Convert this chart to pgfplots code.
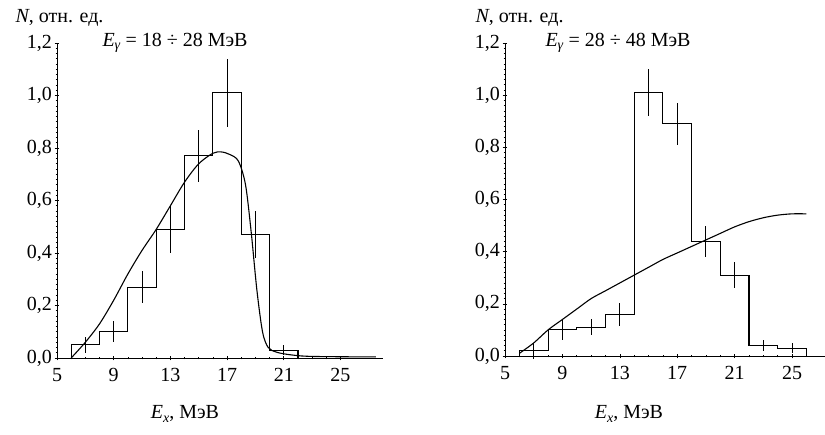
\documentclass[border=0pt]{standalone}
\usepackage{pgfplots}
\pgfplotsset{compat=1.18}
\usepackage{fontspec}
\setmainfont{Liberation Serif}
\newcommand\myf{\fontsize{20bp}{22bp}\selectfont}
\newcommand\sub[1]{\raisebox{-0.35ex}{\fontsize{14bp}{15bp}\selectfont\textit{#1}}}
\pgfplotsset{
 myax/.style={scale only axis, axis lines=left, axis line style={-, line width=1pt},
  xmin=5, ymin=0, ymax=1.2, xtick={5,9,13,17,21,25}, minor x tick num=3,
  ytick={0,0.2,0.4,0.6,0.8,1.0,1.2}, minor y tick num=9,
  tick align=center, major tick length=5pt, minor tick length=3pt,
  tick style={black, line width=0.6pt},
  ticklabel style={font=\myf},
  /pgf/number format/assume math mode=true,
  yticklabel style={xshift=1pt, /pgf/number format/.cd, fixed, fixed zerofill, precision=1, use comma},
  xticklabel style={yshift=-4pt},
  clip=false},
 hist/.style={black, const plot mark left, line width=1.1pt, mark=none},
 err/.style={black, draw=none, mark=none, error bars/.cd, y dir=both, y explicit, error mark=none, error bar style={line width=0.9pt, solid}}
}
\begin{document}
\begin{tikzpicture}
\useasboundingbox (-57bp,-77bp) rectangle (768bp,358bp);
\begin{axis}[myax, at={(0,0)}, anchor=origin, width=326bp, height=315bp, xmax=28]
\addplot[black, mark=none, line width=0.5pt] coordinates {(5,0) (28,0)};
\addplot[hist] coordinates {(6,0) (6,0.05) (8,0.10) (10,0.27) (12,0.49) (14,0.77) (16,1.01) (18,0.47) (20,0.03) (22,0.03)};
\addplot[black, mark=none, line width=1.1pt] coordinates {(22,0.03)(22,0)};
\addplot[err] coordinates {(7,0.05)+-(0,0.03) (9,0.10)+-(0,0.04) (11,0.27)+-(0,0.06) (13,0.49)+-(0,0.09) (15,0.77)+-(0,0.10) (17,1.01)+-(0,0.13) (19,0.47)+-(0,0.09) (21,0.03)+-(0,0.02)};
\addplot[black, mark=none, line width=1.1pt, smooth, tension=0.5] coordinates {(6,0) (7,0.06) (8,0.13) (9,0.22) (10,0.32) (11,0.41) (12,0.49) (13,0.58) (14,0.67) (15,0.74) (16,0.78) (16.6,0.785) (17.2,0.775) (17.8,0.75) (18.3,0.66) (18.7,0.48) (19.1,0.26) (19.5,0.10) (19.9,0.04) (20.5,0.022) (21.5,0.012) (23,0.006) (27.5,0.004)};
\end{axis}
\node[anchor=west, font=\myf] at (-45bp,340bp) {\textit{N}, отн. ед.};
\node[anchor=west, font=\myf] at (42bp,315bp) {\textit{E}\sub{γ} = 18 ÷ 28 МэВ};
\node[font=\myf] at (128bp,-56bp) {\textit{E}\sub{x}, МэВ};
\begin{scope}[shift={(448bp,2bp)}]
\begin{axis}[myax, at={(0,0)}, anchor=origin, width=320bp, height=313bp, xmax=27.3]
\addplot[hist] coordinates {(6,0) (6,0.02) (8,0.10) (10,0.11) (12,0.16) (14,1.01) (16,0.89) (18,0.44) (20,0.31) (22,0.04) (24,0.03) (26,0.03)};
\addplot[black, mark=none, line width=1.1pt] coordinates {(26,0.03)(26,0)};
\addplot[err] coordinates {(7,0.02)+-(0,0.03) (9,0.10)+-(0,0.04) (11,0.11)+-(0,0.03) (13,0.16)+-(0,0.045) (15,1.01)+-(0,0.09) (17,0.89)+-(0,0.08) (19,0.44)+-(0,0.06) (21,0.31)+-(0,0.05) (23,0.04)+-(0,0.02) (25,0.03)+-(0,0.02)};
\addplot[black, mark=none, line width=1.1pt, smooth] coordinates {(6,0.01) (7,0.05) (8,0.10) (9,0.14) (10,0.18) (11,0.22) (12,0.25) (13,0.28) (14,0.31) (15,0.34) (16,0.37) (17,0.395) (18,0.42) (19,0.445) (20,0.47) (21,0.495) (22,0.515) (23,0.53) (24,0.54) (25,0.545) (26,0.545)};
\end{axis}
\node[anchor=west, font=\myf] at (-33bp,338bp) {\textit{N}, отн. ед.};
\node[anchor=west, font=\myf] at (37bp,313bp) {\textit{E}\sub{γ} = 28 ÷ 48 МэВ};
\node[font=\myf] at (124bp,-58bp) {\textit{E}\sub{x}, МэВ};
\end{scope}
\end{tikzpicture}
\end{document}
